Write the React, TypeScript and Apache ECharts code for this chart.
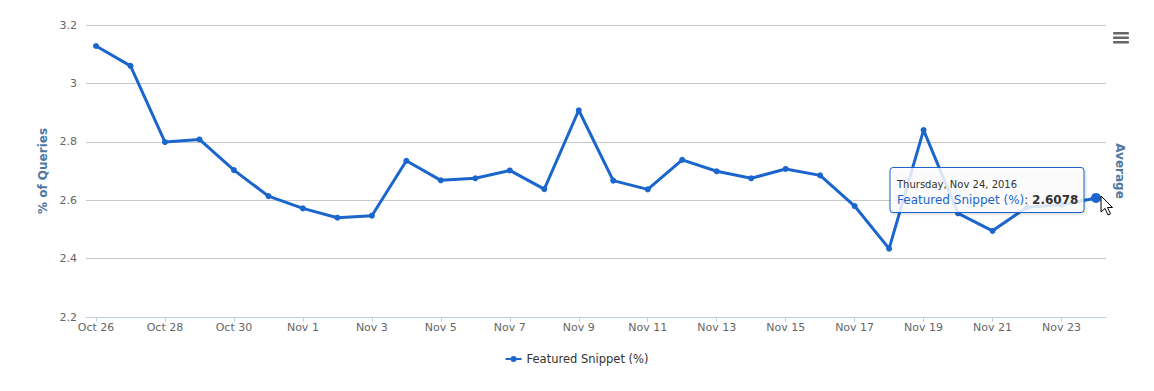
import React, { useEffect, useRef } from "react";
import * as echarts from "echarts";

const dayLabels = [
  "Oct 26", "Oct 27", "Oct 28", "Oct 29", "Oct 30", "Oct 31",
  "Nov 1", "Nov 2", "Nov 3", "Nov 4", "Nov 5", "Nov 6", "Nov 7", "Nov 8",
  "Nov 9", "Nov 10", "Nov 11", "Nov 12", "Nov 13", "Nov 14", "Nov 15",
  "Nov 16", "Nov 17", "Nov 18", "Nov 19", "Nov 20", "Nov 21", "Nov 22",
  "Nov 23", "Nov 24",
];

const snippetValues = [
  3.128, 3.06, 2.799, 2.808, 2.703, 2.614, 2.572, 2.54, 2.547, 2.735,
  2.668, 2.675, 2.702, 2.638, 2.908, 2.667, 2.637, 2.738, 2.699, 2.675,
  2.707, 2.685, 2.58, 2.434, 2.84, 2.555, 2.495, 2.576, 2.584, 2.6078,
];

const labelIndices = [0, 2, 4, 6, 8, 10, 12, 14, 16, 18, 20, 22, 24, 26, 28];
const yTicks = [2.2, 2.4, 2.6, 2.8, 3.0, 3.2];

const SERIES_NAME = "Featured Snippet (%)";
const BLUE = "#1a66cc";
const TITLE_COLOR = "#4f78a3";
const FONT = "DejaVu Sans";
const LEGEND_ICON =
  "path://M0,3h5v2h-5z M11,3h5v2h-5z M5,4a3,3 0 1,0 6,0a3,3 0 1,0 -6,0z";

export default function App() {
  const ref = useRef<HTMLDivElement>(null);

  useEffect(() => {
    if (!ref.current) return;
    const chart = echarts.init(ref.current, undefined, { renderer: "svg" });
    const data = snippetValues.map((v, i) =>
      i === snippetValues.length - 1
        ? { value: [i, v], symbolSize: 10 }
        : { value: [i, v] }
    );
    chart.setOption({
      animation: false,
      textStyle: { fontFamily: FONT },
      grid: { left: 86, right: 48, top: 25, bottom: 74 },
      xAxis: {
        type: "value",
        min: -0.29,
        max: 29.29,
        splitLine: { show: false },
        axisLine: { show: true, lineStyle: { color: "#C0D0E0", width: 1 } },
        axisTick: {
          show: true,
          length: 5,
          lineStyle: { color: "#C0D0E0" },
          customValues: labelIndices,
        },
        axisLabel: {
          customValues: labelIndices,
          formatter: (v: number) => dayLabels[Math.round(v)] ?? "",
          color: "#666666",
          fontSize: 11,
          fontFamily: FONT,
          margin: 5,
        },
      },
      yAxis: [
        {
          type: "value",
          min: 2.2,
          max: 3.2,
          interval: 0.2,
          axisLine: { show: false },
          axisTick: { show: false },
          splitLine: { lineStyle: { color: "#C8C8C8", width: 1 } },
          axisLabel: {
            color: "#666666",
            fontSize: 11,
            fontFamily: FONT,
            margin: 9,
            formatter: (v: number) => {
              const t = yTicks.find((x) => Math.abs(x - v) < 1e-6);
              return t === undefined ? "" : String(Math.round(t * 10) / 10);
            },
          },
          name: "% of Queries",
          nameLocation: "middle",
          nameGap: 35,
          nameRotate: 90,
          nameTextStyle: {
            color: TITLE_COLOR,
            fontWeight: "bold",
            fontSize: 12,
            fontFamily: FONT,
          },
        },
        {
          type: "value",
          min: 2.2,
          max: 3.2,
          position: "right",
          axisLine: { show: false },
          axisTick: { show: false },
          axisLabel: { show: false },
          splitLine: { show: false },
          name: "Average",
          nameLocation: "middle",
          nameGap: 8,
          nameRotate: -90,
          nameTextStyle: {
            color: TITLE_COLOR,
            fontWeight: "bold",
            fontSize: 12,
            fontFamily: FONT,
          },
        },
      ],
      legend: {
        left: "center",
        top: 348,
        itemWidth: 16,
        itemHeight: 6,
        itemGap: 6,
        textStyle: { color: "#333333", fontSize: 11.5, fontFamily: FONT },
        data: [{ name: SERIES_NAME, icon: LEGEND_ICON }],
      },
      series: [
        {
          name: SERIES_NAME,
          type: "line",
          data,
          symbol: "circle",
          symbolSize: 6,
          showSymbol: true,
          lineStyle: { color: BLUE, width: 3 },
          itemStyle: { color: BLUE },
          z: 2,
        },
      ],
      graphic: [
        // menu icon
        { type: "rect", shape: { x: 1113, y: 32, width: 16, height: 2.5, r: 1 }, style: { fill: "#666666" } },
        { type: "rect", shape: { x: 1113, y: 36.5, width: 16, height: 2.5, r: 1 }, style: { fill: "#666666" } },
        { type: "rect", shape: { x: 1113, y: 41, width: 16, height: 2.5, r: 1 }, style: { fill: "#666666" } },
        // tooltip
        {
          type: "rect",
          z: 100,
          zlevel: 1,
          shape: { x: 890, y: 167.5, width: 194, height: 45, r: 3 },
          style: {
            fill: "rgba(255,255,255,0.82)",
            stroke: BLUE,
            lineWidth: 1,
            shadowBlur: 3,
            shadowOffsetX: 1,
            shadowOffsetY: 1,
            shadowColor: "rgba(0,0,0,0.2)",
          },
        },
        {
          type: "text",
          z: 101,
          zlevel: 1,
          x: 897,
          y: 184,
          style: {
            text: "Thursday, Nov 24, 2016",
            fill: "#333333",
            fontSize: 10,
            fontFamily: FONT,
            verticalAlign: "middle",
          },
        },
        {
          type: "text",
          z: 101,
          zlevel: 1,
          x: 897,
          y: 200,
          style: {
            text: "{a|Featured Snippet (%)}{c|: }{b|2.6078}",
            verticalAlign: "middle",
            rich: {
              a: { fill: BLUE, fontSize: 12, fontFamily: FONT },
              c: { fill: "#333333", fontSize: 12, fontFamily: FONT },
              b: { fill: "#333333", fontSize: 12, fontWeight: "bold", fontFamily: FONT },
            },
          },
        },
        // mouse cursor
        {
          type: "polygon",
          z: 102,
          zlevel: 1,
          shape: {
            points: [
              [1101, 196], [1101, 212], [1105, 208.5], [1108, 215],
              [1110.5, 214], [1107.5, 207.5], [1112.5, 207.5],
            ],
          },
          style: { fill: "#ffffff", stroke: "#000000", lineWidth: 1 },
        },
      ],
    });
    return () => chart.dispose();
  }, []);

  return <div ref={ref} style={{ width: 1154, height: 391, margin: -8 }} />;
}
